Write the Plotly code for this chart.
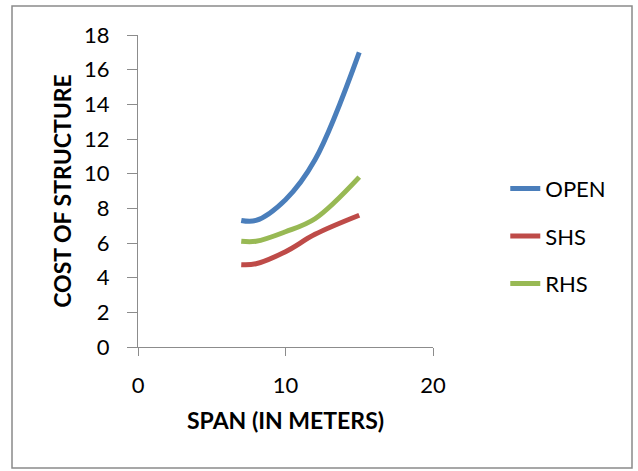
import plotly.graph_objects as go

span = [7, 8, 10, 12, 15]
open_cost = [7.3, 7.3, 8.5, 10.8, 17.0]
shs_cost = [4.75, 4.8, 5.5, 6.5, 7.6]
rhs_cost = [6.1, 6.1, 6.65, 7.4, 9.8]

series = [("OPEN", open_cost, "#4A7EBB"), ("SHS", shs_cost, "#BE4B48"), ("RHS", rhs_cost, "#98B954")]

fig = go.Figure()
for i, (name, vals, col) in enumerate(series):
    fig.add_trace(go.Scatter(x=span, y=vals, name=name, mode="lines",
                             line=dict(color=col, width=5, shape="spline", smoothing=1.0),
                             legendgroup=str(i)))

font = "Lato, 'Open Sans', sans-serif"
axis_common = dict(showgrid=False, zeroline=False, showline=True, linecolor="#8c8c8c", linewidth=1.3,
                   ticks="outside", tickcolor="#8c8c8c", tickwidth=1.3,
                   tickfont=dict(family=font, size=22, color="black"))
fig.update_layout(
    width=638, height=471,
    margin=dict(l=138, r=205, t=35, b=124),
    paper_bgcolor="white", plot_bgcolor="white",
    xaxis=dict(range=[0, 20], tickvals=[0, 10, 20], ticklen=8, ticklabelstandoff=10,
               title=dict(text="<b>SPAN (IN METERS)</b>", font=dict(family=font, size=23, color="black"), standoff=16),
               **axis_common),
    yaxis=dict(range=[0, 18], tickvals=list(range(0, 19, 2)), ticklen=10, ticklabelstandoff=13,
               title=dict(text="<b>COST OF STRUCTURE</b>", font=dict(family=font, size=23, color="black"), standoff=5),
               **axis_common),
    legend=dict(x=1.245, y=0.575, xanchor="left", yanchor="top", traceorder="grouped", tracegroupgap=16,
                font=dict(family=font, size=22, color="black"), bgcolor="rgba(0,0,0,0)"),
    showlegend=True,
)
fig.add_shape(type="rect", xref="paper", yref="paper",
              x0=-0.4271, x1=1.6746, y0=-0.3878, y1=1.0929,
              line=dict(color="#8a8a8a", width=1.5), layer="below")
fig.write_html("out.html")
